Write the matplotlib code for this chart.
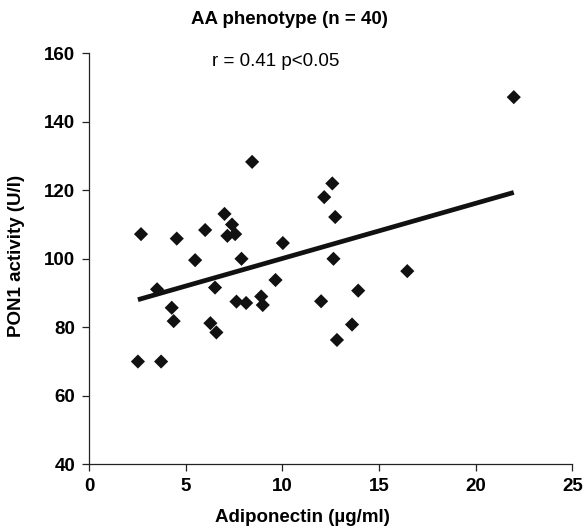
import numpy as np
import matplotlib
matplotlib.use("Agg")
import matplotlib.pyplot as plt

plt.rcParams['font.family'] = ['Liberation Sans', 'DejaVu Sans']

# Adiponectin (µg/ml) vs PON1 activity (U/l), AA phenotype
adiponectin = [2.68, 4.53, 5.48, 6.00, 7.00, 7.39, 7.15, 7.55, 8.43, 7.88,
               10.02, 12.16, 9.64, 12.58, 12.73, 12.64, 16.46, 21.97, 3.51, 4.27,
               4.37, 2.52, 3.72, 6.51, 6.27, 6.58, 7.62, 8.12, 8.90, 8.98,
               12.00, 13.92, 13.60, 12.82]
pon1 = [107.2, 105.9, 99.6, 108.4, 113.1, 110.0, 106.7, 107.2, 128.3, 100.0,
        104.6, 118.0, 93.8, 122.0, 112.2, 100.0, 96.4, 147.2, 91.1, 85.7,
        81.8, 70.0, 70.0, 91.6, 81.2, 78.5, 87.5, 87.1, 89.0, 86.5,
        87.6, 90.7, 80.8, 76.3]

# linear trend line
trend_intercept = 84.0
trend_slope = 1.61

x_ticks = [0, 5, 10, 15, 20, 25]
y_ticks = [40, 60, 80, 100, 120, 140, 160]

title = "AA phenotype (n = 40)"
stat_text = "r = 0.41 p<0.05"
x_label = "Adiponectin (µg/ml)"
y_label = "PON1 activity (U/l)"

fig = plt.figure(figsize=(5.87, 5.32), dpi=100)
ax = fig.add_axes([0.152, 0.1273, 0.823, 0.7725])

ax.scatter(adiponectin, pon1, marker='D', s=52, color='#111111',
           edgecolors='none', zorder=3)

xs = np.array([min(adiponectin), max(adiponectin)])
ax.plot(xs, trend_intercept + trend_slope * xs, color='#111111', lw=3.4,
        solid_capstyle='butt', zorder=2)

ax.set_xlim(0, 25)
ax.set_ylim(40, 160)
ax.set_xticks(x_ticks)
ax.set_yticks(y_ticks)
ax.spines['top'].set_visible(False)
ax.spines['right'].set_visible(False)
for s in ('left', 'bottom'):
    ax.spines[s].set_linewidth(0.9)
    ax.spines[s].set_color('#222222')
ax.tick_params(direction='out', length=5, width=0.9, color='#222222',
               labelsize=13.5, pad=5)
for lbl in ax.get_xticklabels() + ax.get_yticklabels():
    lbl.set_fontweight('bold')

fig.text(289 / 587, 1 - 20 / 532, title, ha='center', va='center',
         fontsize=13.5, fontweight='bold')
fig.text(276 / 587, 1 - 62 / 532, stat_text, ha='center', va='center',
         fontsize=13.5)
fig.text(302 / 587, 1 - 518 / 532, x_label, ha='center', va='center',
         fontsize=13.5, fontweight='bold')
fig.text(17 / 587, 1 - 256 / 532, y_label, ha='center', va='center',
         rotation=90, fontsize=13.5, fontweight='bold')

fig.savefig("out.png", dpi=100)
